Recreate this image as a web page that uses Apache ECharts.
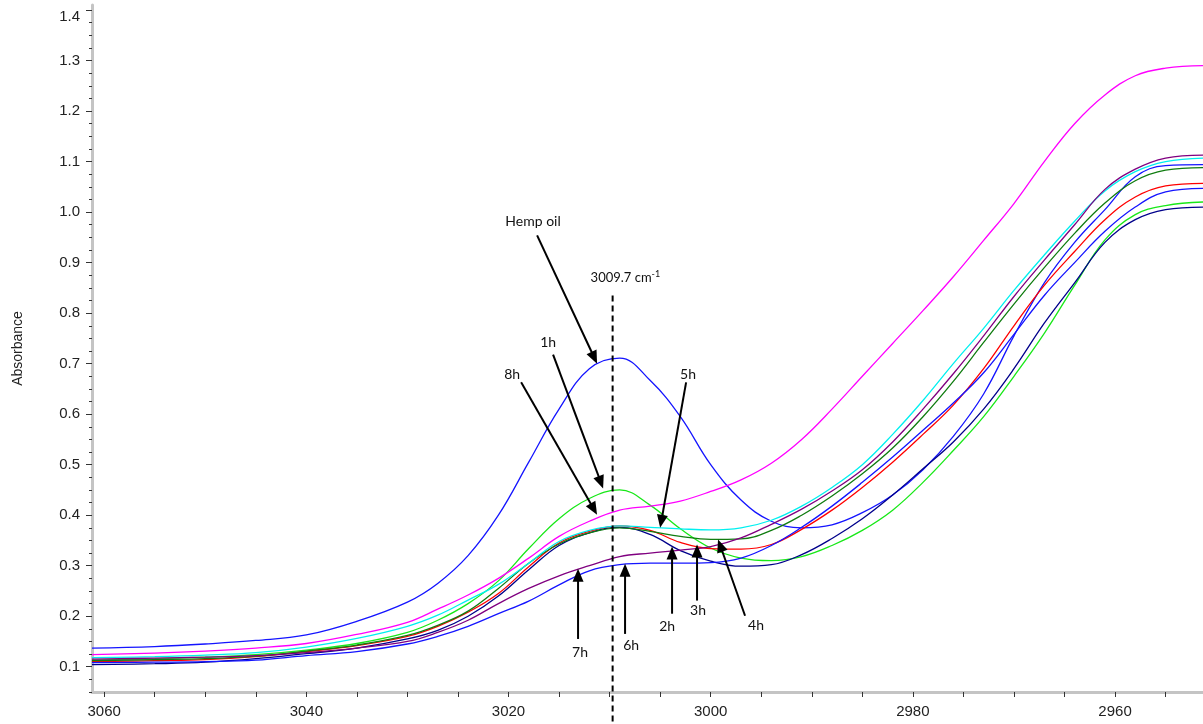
<!DOCTYPE html>
<html><head><meta charset="utf-8">
<script src="https://cdn.jsdelivr.net/npm/echarts@6/dist/echarts.min.js"></script>
<style>html,body{margin:0;padding:0;background:#fff}#c{width:1203px;height:724px}</style>
</head><body><div id="c"></div>
<script>
// wavenumber (cm-1) sampling positions
const wavenumbers = [3061.2,3055,3050,3045,3040,3035,3030,3027,3024,3021,3018,3015,3012,3009,3006,3003,3000,2997,2994,2991,2988,2985,2982,2979,2976,2973,2970,2967,2964,2961,2958,2955,2951.3];
const hempOil = [0.137,0.140,0.145,0.152,0.163,0.190,0.228,0.265,0.320,0.400,0.505,0.610,0.690,0.711,0.667,0.595,0.500,0.430,0.388,0.375,0.381,0.405,0.440,0.490,0.556,0.640,0.755,0.860,0.940,1.005,1.070,1.092,1.094];
const h1 = [0.113,0.116,0.119,0.124,0.133,0.146,0.168,0.192,0.225,0.270,0.334,0.393,0.433,0.450,0.420,0.373,0.335,0.315,0.310,0.318,0.340,0.370,0.410,0.465,0.528,0.595,0.675,0.760,0.855,0.945,0.995,1.013,1.020];
const h2 = [0.104,0.106,0.109,0.116,0.126,0.137,0.155,0.172,0.200,0.240,0.292,0.340,0.365,0.376,0.362,0.330,0.309,0.299,0.302,0.322,0.354,0.393,0.440,0.492,0.545,0.610,0.690,0.780,0.860,0.940,0.985,1.005,1.010];
const h3 = [0.110,0.112,0.114,0.120,0.130,0.142,0.160,0.180,0.208,0.245,0.298,0.345,0.368,0.379,0.370,0.346,0.334,0.333,0.342,0.372,0.410,0.455,0.505,0.560,0.618,0.690,0.775,0.855,0.922,0.985,1.030,1.052,1.057];
const h4 = [0.112,0.114,0.116,0.121,0.131,0.143,0.162,0.182,0.210,0.255,0.305,0.343,0.365,0.375,0.368,0.358,0.352,0.353,0.370,0.400,0.438,0.482,0.533,0.595,0.665,0.742,0.818,0.890,0.958,1.018,1.062,1.083,1.088];
const h5 = [0.118,0.120,0.123,0.128,0.139,0.156,0.180,0.202,0.232,0.263,0.305,0.348,0.370,0.379,0.376,0.373,0.371,0.375,0.390,0.418,0.455,0.500,0.560,0.627,0.700,0.770,0.845,0.915,0.982,1.042,1.080,1.100,1.107];
const h6 = [0.108,0.109,0.110,0.113,0.122,0.130,0.145,0.160,0.180,0.205,0.230,0.262,0.290,0.302,0.305,0.305,0.306,0.315,0.340,0.376,0.418,0.465,0.515,0.568,0.622,0.682,0.758,0.835,0.900,0.962,1.010,1.040,1.047];
const h7 = [0.115,0.117,0.119,0.122,0.128,0.137,0.150,0.168,0.192,0.225,0.255,0.280,0.300,0.318,0.325,0.331,0.338,0.355,0.382,0.412,0.448,0.490,0.545,0.610,0.680,0.755,0.833,0.905,0.975,1.045,1.085,1.107,1.113];
const h8 = [0.124,0.127,0.131,0.137,0.146,0.164,0.188,0.214,0.242,0.275,0.315,0.358,0.388,0.410,0.418,0.428,0.447,0.470,0.503,0.550,0.610,0.675,0.740,0.805,0.872,0.944,1.017,1.100,1.175,1.232,1.270,1.285,1.290];

const seriesNames = ['Hemp oil','1h','2h','3h','4h','5h','6h','7h','8h'];
const seriesColors = ['#1414ff','#18e818','#00008b','#ff0000','#107c10','#00f0f0','#1414ff','#800080','#ff00ff'];
const seriesValues = [hempOil,h1,h2,h3,h4,h5,h6,h7,h8];

const yTickLabels = [0.1,0.2,0.3,0.4,0.5,0.6,0.7,0.8,0.9,1.0,1.1,1.2,1.3,1.4];
const yMinorTicks = [0.05,0.075,0.125,0.15,0.175,0.225,0.25,0.275,0.325,0.35,0.375,0.425,0.45,0.475,0.525,0.55,0.575,0.625,0.65,0.675,0.725,0.75,0.775,0.825,0.85,0.875,0.925,0.95,0.975,1.025,1.05,1.075,1.125,1.15,1.175,1.225,1.25,1.275,1.325,1.35,1.375];
const xTickLabels = [3060,3040,3020,3000,2980,2960];
const xTicks = [3060,3055,3050,3045,3040,3035,3030,3025,3020,3015,3010,3005,3000,2995,2990,2985,2980,2975,2970,2965,2960,2955];

// annotations: [text, textX, textY, tailX, tailY, tipX, tipY] in data units
const annotations = [
  ['Hemp oil', 3017.57, 0.982, 3017.17, 0.954, 3011.24, 0.700],
  ['1h', 3016.08, 0.742, 3015.59, 0.718, 3010.64, 0.453],
  ['8h', 3019.64, 0.679, 3018.75, 0.663, 3011.24, 0.401],
  ['5h', 3002.24, 0.679, 3002.43, 0.663, 3005.0, 0.375],
  ['2h', 3004.31, 0.179, 3003.82, 0.205, 3003.82, 0.338],
  ['3h', 3001.25, 0.211, 3001.35, 0.231, 3001.35, 0.342],
  ['4h', 2995.51, 0.181, 2996.6, 0.201, 2999.27, 0.352],
  ['7h', 3012.92, 0.128, 3013.12, 0.155, 3013.12, 0.294],
  ['6h', 3007.87, 0.142, 3008.47, 0.165, 3008.47, 0.304]
];
const peakWavenumber = 3009.7;
const peakLineTop = 0.835;
const peakLabelY = 0.869;

const chart = echarts.init(document.getElementById('c'));
const axisFont = 'Liberation Sans, Arial, sans-serif';
const yMin = 0.05, yMax = 1.41;

chart.setOption({
  animation: false,
  backgroundColor: '#fff',
  grid: {left: 92, right: 0, top: 5, bottom: 32},
  xAxis: {
    type: 'value', inverse: true, min: 2951.3, max: 3061.2,
    splitLine: {show: false},
    axisLine: {lineStyle: {color: '#c4c4c4', width: 3}},
    axisTick: {customValues: xTicks, length: 5, lineStyle: {color: '#333', width: 1}},
    axisLabel: {customValues: xTickLabels, fontSize: 15, color: '#222', fontFamily: axisFont, margin: 12, formatter: v => String(Math.round(v))}
  },
  yAxis: [{
    type: 'value', min: yMin, max: yMax, position: 'left',
    name: 'Absorbance', nameLocation: 'middle', nameGap: 67,
    nameTextStyle: {fontSize: 14, color: '#222', fontFamily: axisFont},
    splitLine: {show: false},
    axisLine: {lineStyle: {color: '#c4c4c4', width: 3}},
    axisTick: {customValues: yTickLabels, length: 6, lineStyle: {color: '#333', width: 1}},
    axisLabel: {
      customValues: yTickLabels, fontSize: 15, color: '#222', fontFamily: axisFont, margin: 12,
      formatter: v => Math.abs(v - 1.4) < 1e-6 ? '{t|1.4}' : v.toFixed(1),
      rich: {t: {fontSize: 15, color: '#222', fontFamily: axisFont, padding: [14, 0, 0, 0]}}
    }
  }, {
    type: 'value', min: yMin, max: yMax, position: 'left',
    splitLine: {show: false},
    axisLine: {show: false},
    axisTick: {customValues: yMinorTicks, length: 3, lineStyle: {color: '#333', width: 1}},
    axisLabel: {show: false}
  }],
  series: seriesNames.map((n, i) => ({
    name: n, type: 'line', smooth: 0.4, showSymbol: false, yAxisIndex: 0,
    lineStyle: {color: seriesColors[i], width: 1.3},
    itemStyle: {color: seriesColors[i]},
    data: wavenumbers.map((w, j) => [w, seriesValues[i][j]])
  }))
});

const toPx = (x, y) => chart.convertToPixel({xAxisIndex: 0, yAxisIndex: 0}, [x, y]);
const graphics = [];
const annFont = '14px Lato, "Open Sans", sans-serif';
annotations.forEach(a => {
  const t = toPx(a[1], a[2]);
  const s = toPx(a[3], a[4]);
  const e = toPx(a[5], a[6]);
  const dx = e[0] - s[0], dy = e[1] - s[1];
  const L = Math.hypot(dx, dy);
  const ux = dx / L, uy = dy / L;
  const hl = 13, hw = 5.5;
  const bx = e[0] - ux * hl, by = e[1] - uy * hl;
  graphics.push({type: 'text', z: 100, style: {text: a[0], x: t[0], y: t[1], align: 'center', verticalAlign: 'middle', font: annFont, fill: '#111'}});
  graphics.push({type: 'line', z: 100, shape: {x1: s[0], y1: s[1], x2: bx + ux, y2: by + uy}, style: {stroke: '#000', lineWidth: 2}});
  graphics.push({type: 'polygon', z: 100, shape: {points: [[e[0], e[1]], [bx - uy * hw, by + ux * hw], [bx + uy * hw, by - ux * hw]]}, style: {fill: '#000'}});
});
const peakTop = toPx(peakWavenumber, peakLineTop);
graphics.push({type: 'line', z: 100, shape: {x1: peakTop[0], y1: peakTop[1], x2: peakTop[0], y2: 724}, style: {stroke: '#000', lineWidth: 2, lineDash: [6, 4]}});
const peakLab = toPx(peakWavenumber, peakLabelY);
graphics.push({type: 'text', z: 100, style: {
  text: '{a|3009.7 cm}{b|-1}', x: peakLab[0] - 22, y: peakLab[1], align: 'left', verticalAlign: 'middle',
  rich: {a: {font: '13px Lato, "Open Sans", sans-serif', fill: '#111'}, b: {font: '9px Lato, "Open Sans", sans-serif', fill: '#111', padding: [0, 0, 8, 0]}}
}});
chart.setOption({graphic: graphics});
</script>
</body></html>
